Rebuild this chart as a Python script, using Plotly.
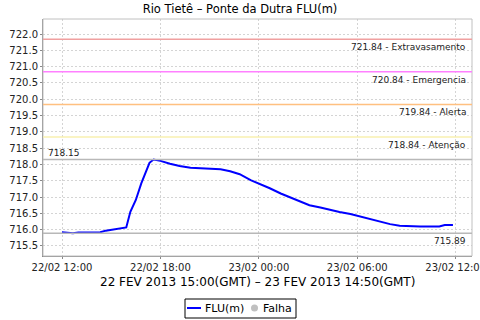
import plotly.graph_objects as go

# ---- data ----
times = [
    "2013-02-22 12:00", "2013-02-22 12:20", "2013-02-22 12:40", "2013-02-22 13:00",
    "2013-02-22 13:30", "2013-02-22 14:00", "2013-02-22 14:20", "2013-02-22 14:40",
    "2013-02-22 15:30", "2013-02-22 15:55", "2013-02-22 16:10", "2013-02-22 16:30",
    "2013-02-22 16:50", "2013-02-22 17:05", "2013-02-22 17:20", "2013-02-22 17:35",
    "2013-02-22 18:00", "2013-02-22 18:35", "2013-02-22 19:10", "2013-02-22 19:50",
    "2013-02-22 20:25", "2013-02-22 21:00", "2013-02-22 21:40", "2013-02-22 22:15",
    "2013-02-22 22:50", "2013-02-22 23:30", "2013-02-23 00:05", "2013-02-23 00:40",
    "2013-02-23 01:20", "2013-02-23 01:55", "2013-02-23 02:30", "2013-02-23 03:05",
    "2013-02-23 03:45", "2013-02-23 04:20", "2013-02-23 04:55", "2013-02-23 05:35",
    "2013-02-23 06:10", "2013-02-23 06:45", "2013-02-23 07:25", "2013-02-23 08:00",
    "2013-02-23 08:35", "2013-02-23 09:10", "2013-02-23 09:50", "2013-02-23 11:00",
    "2013-02-23 11:20", "2013-02-23 11:50",
]
flu = [
    715.92, 715.91, 715.89, 715.91,
    715.91, 715.92, 715.92, 715.97,
    716.04, 716.07, 716.55, 716.91,
    717.42, 717.73, 718.05, 718.15,
    718.11, 718.02, 717.95, 717.90,
    717.88, 717.88, 717.85, 717.79,
    717.70, 717.52, 717.40, 717.27,
    717.11, 716.99, 716.86, 716.75,
    716.68, 716.60, 716.54, 716.48,
    716.40, 716.32, 716.24, 716.17,
    716.12, 716.10, 716.10, 716.10,
    716.14, 716.14,
]
thresholds = [721.84, 720.84, 719.84, 718.84]
threshold_names = ["Extravasamento", "Emergencia", "Alerta", "Atenção"]
threshold_colors = ["#f0a0a0", "#ff80ff", "#ffc080", "#f8f0b0"]
max_val = 718.15
min_val = 715.89
tick_times = ["2013-02-22 12:00", "2013-02-22 18:00", "2013-02-23 00:00",
              "2013-02-23 06:00", "2013-02-23 12:00"]
tick_labels = ["22/02 12:00", "22/02 18:00", "23/02 00:00", "23/02 06:00", "23/02 12:00"]

FONT = "DejaVu Sans"
W, H = 480, 320
L, R, T, B = 43, 8, 19, 64
PW, PH = W - L - R, H - T - B


def px(x):
    return (x - L) / PW


def py(y):
    return (H - B - y) / PH


fig = go.Figure()
fig.add_trace(go.Scatter(x=times, y=flu, mode="lines",
                         line=dict(color="#0000ff", width=2), showlegend=False))

shapes = []
annotations = []
# plot frame
shapes.append(dict(type="rect", xref="paper", yref="paper", x0=0, x1=1, y0=0, y1=1,
                   line=dict(color="#c0c0c0", width=1), layer="above"))
for v, n, c in zip(thresholds, threshold_names, threshold_colors):
    shapes.append(dict(type="line", xref="paper", yref="y", x0=0, x1=1, y0=v, y1=v,
                       line=dict(color=c, width=1.5)))
    annotations.append(dict(xref="paper", yref="y", x=px(468), y=v, yshift=-8,
                            xanchor="right", yanchor="middle", showarrow=False,
                            text=f"{v:.2f} - {n}",
                            font=dict(family=FONT, size=9, color="#222")))
for v in [max_val, min_val]:
    shapes.append(dict(type="line", xref="paper", yref="y", x0=0, x1=1, y0=v, y1=v,
                       line=dict(color="#b8b8b8", width=1.5)))
annotations.append(dict(xref="paper", yref="y", x=px(46), y=max_val, yshift=7,
                        xanchor="left", yanchor="middle", showarrow=False,
                        text=f"{max_val:.2f}",
                        font=dict(family=FONT, size=9, color="#222")))
annotations.append(dict(xref="paper", yref="y", x=px(468), y=min_val, yshift=-8,
                        xanchor="right", yanchor="middle", showarrow=False,
                        text=f"{min_val:.2f}",
                        font=dict(family=FONT, size=9, color="#222")))

# subtitle (x-axis caption)
annotations.append(dict(xref="paper", yref="paper", x=px(257), y=py(282),
                        xanchor="center", yanchor="middle", showarrow=False,
                        text="22 FEV 2013 15:00(GMT) – 23 FEV 2013 14:50(GMT)",
                        font=dict(family=FONT, size=12, color="#000")))

# manual legend
shapes.append(dict(type="rect", xref="paper", yref="paper", x0=px(185), x1=px(296),
                   y0=py(318), y1=py(299), line=dict(color="#000", width=1),
                   fillcolor="white"))
shapes.append(dict(type="line", xref="paper", yref="paper", x0=px(187), x1=px(201),
                   y0=py(308), y1=py(308), line=dict(color="#0000ff", width=2)))
annotations.append(dict(xref="paper", yref="paper", x=px(203), y=py(308),
                        xanchor="left", yanchor="middle", showarrow=False,
                        text="FLU(m)", font=dict(family=FONT, size=11, color="#000")))
shapes.append(dict(type="circle", xref="paper", yref="paper", x0=px(251), x1=px(258),
                   y0=py(311.5), y1=py(304.5), line=dict(width=0), fillcolor="#c0c0c0"))
annotations.append(dict(xref="paper", yref="paper", x=px(261), y=py(308),
                        xanchor="left", yanchor="middle", showarrow=False,
                        text="Falha", font=dict(family=FONT, size=11, color="#000")))

fig.update_layout(
    width=W, height=H,
    margin=dict(l=L, r=R, t=T, b=B, pad=0, autoexpand=False),
    paper_bgcolor="white", plot_bgcolor="white",
    title=dict(text="Rio Tietê – Ponte da Dutra FLU(m)", x=0.5, xanchor="center",
               y=1 - 9 / H, yanchor="middle", yref="container",
               font=dict(family=FONT, size=11.5, color="#000")),
    shapes=shapes, annotations=annotations, showlegend=False,
    xaxis=dict(range=["2013-02-22 10:50:30", "2013-02-23 12:59:40"], automargin=False,
               tickvals=tick_times, ticktext=tick_labels, ticklabeloverflow="allow",
               showgrid=True, gridcolor="#d4d4d4", griddash="2px,2px", gridwidth=1,
               showline=True, linecolor="#888", linewidth=1,
               ticks="outside", ticklen=2, tickcolor="#888",
               tickfont=dict(family=FONT, size=10, color="#222"), zeroline=False),
    yaxis=dict(range=[715.193, 722.46], tick0=715.5, dtick=0.5, tickformat=".1f",
               automargin=False,
               showgrid=True, gridcolor="#d4d4d4", griddash="2px,2px", gridwidth=1,
               showline=True, linecolor="#888", linewidth=1,
               ticks="outside", ticklen=2, tickcolor="#888",
               tickfont=dict(family=FONT, size=10, color="#222"), zeroline=False),
)

fig.write_html("out.html")
